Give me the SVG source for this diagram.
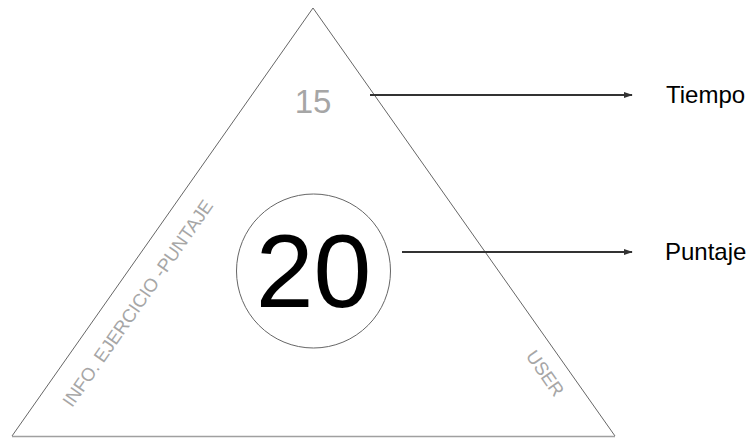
<svg xmlns="http://www.w3.org/2000/svg" width="755" height="438" viewBox="0 0 755 438">
<style>
text{font-family:"Liberation Sans",Arial,sans-serif}
.gray{fill:#a6a6a6}
.lbl{fill:#000;font-size:24px}
.edge{stroke:#333;stroke-width:2;fill:none}
</style>
<defs>
<marker id="ah" viewBox="0 0 10 10" refX="9" refY="5" markerWidth="9" markerHeight="9" orient="auto" markerUnits="userSpaceOnUse">
<path d="M0,1.5 L10,5 L0,8.5 z" fill="#333"/>
</marker>
</defs>
<rect width="755" height="438" fill="#fff"/>
<g id="triangle">
<path d="M12,436 L313,8 L615,436" fill="none" stroke="#666" stroke-width="1"/>
<line x1="12" y1="436.5" x2="615" y2="436.5" stroke="#a0a0a0" stroke-width="1.5"/>
<text class="gray" x="313" y="113" font-size="33" text-anchor="middle">15</text>
<text class="gray" font-size="18.5" text-anchor="middle" transform="translate(143,307) rotate(-55)">INFO. EJERCICIO -PUNTAJE</text>
<text class="gray" font-size="18.5" text-anchor="middle" transform="translate(540,377) rotate(55)">USER</text>
</g>
<g id="score">
<circle cx="313.5" cy="271" r="77" fill="none" stroke="#666" stroke-width="1"/>
<text x="313.5" y="307" font-size="104" text-anchor="middle" fill="#000">20</text>
</g>
<g id="tiempo">
<text class="lbl" x="666" y="103">Tiempo</text>
</g>
<g id="puntaje">
<text class="lbl" x="665" y="260">Puntaje</text>
</g>
<g id="connectors">
<line class="edge" x1="370" y1="95" x2="632" y2="95" marker-end="url(#ah)"/>
<line class="edge" x1="402" y1="252" x2="632" y2="252" marker-end="url(#ah)"/>
</g>
</svg>
